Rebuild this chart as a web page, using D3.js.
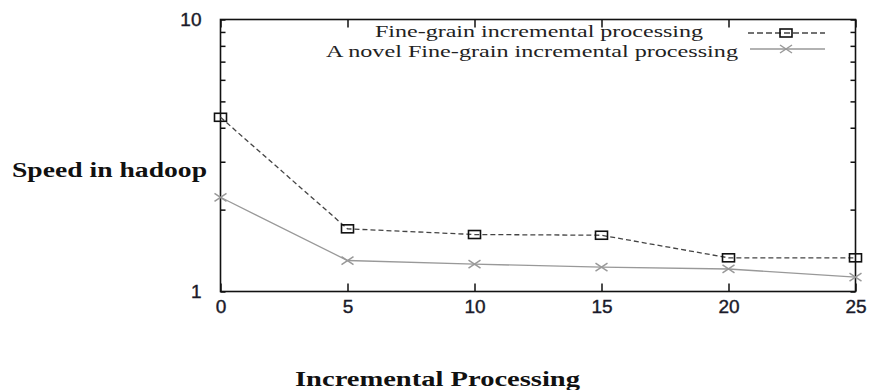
<!DOCTYPE html>
<html>
<head>
<meta charset="utf-8">
<script src="https://cdn.jsdelivr.net/npm/d3@7"></script>
<style>
  body { margin: 0; background: #fff; }
  svg { display: block; }
</style>
</head>
<body>
<div id="chart"></div>
<script>
// data
var steps = [0, 5, 10, 15, 20, 25];
var fineGrain = [4.37, 1.70, 1.62, 1.61, 1.33, 1.33];
var novelFineGrain = [2.22, 1.30, 1.26, 1.23, 1.21, 1.13];
var seriesNames = ["Fine-grain incremental processing", "A novel Fine-grain incremental processing"];
var xTicks = [0, 5, 10, 15, 20, 25];
var yTicks = [1, 2, 3, 4, 5, 6, 7, 8, 9, 10];
var yLabels = [1, 10];

var W = 877, H = 390;
var plotL = 220.5, plotR = 855.5, plotT = 19.5, plotB = 291.5;

var svg = d3.select("#chart").append("svg").attr("width", W).attr("height", H);

var x = d3.scaleLinear().domain([0, 25]).range([plotL, plotR]);
var y = d3.scaleLog().domain([1, 10]).range([plotB, plotT]);

function styleAxis(g) {
  g.select(".domain").remove();
  g.selectAll(".tick line").attr("stroke", "#111").attr("stroke-width", 1.5);
  g.selectAll("text").attr("font-family", "'Liberation Sans', Arial, sans-serif")
    .attr("font-size", 19).attr("fill", "#1a1a2a").attr("stroke", "#1a1a2a").attr("stroke-width", 0.4);
}

// bottom axis
svg.append("g").attr("transform", "translate(0," + plotB + ")")
  .call(d3.axisBottom(x).tickValues(xTicks).tickSizeInner(-8).tickSizeOuter(0).tickPadding(8))
  .call(styleAxis);
// top axis
svg.append("g").attr("transform", "translate(0," + plotT + ")")
  .call(d3.axisTop(x).tickValues(xTicks).tickSizeInner(-8).tickSizeOuter(0).tickFormat(""))
  .call(styleAxis);
// left axis (log, minor ticks)
svg.append("g").attr("transform", "translate(" + plotL + ",0)")
  .call(d3.axisLeft(y).tickValues(yTicks).tickSizeInner(-5).tickSizeOuter(0).tickPadding(19)
    .tickFormat(function(d) { return yLabels.indexOf(d) >= 0 ? d : ""; }))
  .call(styleAxis);
// right axis
svg.append("g").attr("transform", "translate(" + plotR + ",0)")
  .call(d3.axisRight(y).tickValues(yTicks).tickSizeInner(-5).tickSizeOuter(0).tickFormat(""))
  .call(styleAxis);

// frame
svg.append("rect")
  .attr("x", plotL).attr("y", plotT)
  .attr("width", plotR - plotL).attr("height", plotB - plotT)
  .attr("fill", "none").attr("stroke", "#111").attr("stroke-width", 1.6);

var line = d3.line()
  .x(function(d, i) { return x(steps[i]); })
  .y(function(d) { return y(d); });

// series 1 dashed with squares
svg.append("path").datum(fineGrain)
  .attr("d", line).attr("fill", "none")
  .attr("stroke", "#444").attr("stroke-width", 1.3).attr("stroke-dasharray", "5,3");

// series 2 solid gray with crosses
svg.append("path").datum(novelFineGrain)
  .attr("d", line).attr("fill", "none")
  .attr("stroke", "#999").attr("stroke-width", 1.3);

function square(g, cx, cy) {
  g.append("rect").attr("x", cx - 6).attr("y", cy - 4).attr("width", 12).attr("height", 8)
    .attr("fill", "none").attr("stroke", "#111").attr("stroke-width", 1.6);
}
function cross(g, cx, cy) {
  g.append("path")
    .attr("d", "M" + (cx - 6) + "," + (cy - 4) + "L" + (cx + 6) + "," + (cy + 4) +
               "M" + (cx - 6) + "," + (cy + 4) + "L" + (cx + 6) + "," + (cy - 4))
    .attr("stroke", "#999").attr("stroke-width", 1.5).attr("fill", "none");
}

var m1 = svg.append("g");
fineGrain.forEach(function(d, i) { square(m1, x(steps[i]), y(d)); });
var m2 = svg.append("g");
novelFineGrain.forEach(function(d, i) { cross(m2, x(steps[i]), y(d)); });

// legend
var lg = svg.append("g");
lg.append("text").attr("x", 375).attr("y", 37).attr("textLength", 328).attr("lengthAdjust", "spacingAndGlyphs")
  .attr("font-family", "'Liberation Serif', 'Times New Roman', serif").attr("font-size", 16).attr("fill", "#222")
  .text(seriesNames[0]);
lg.append("text").attr("x", 326).attr("y", 57).attr("textLength", 412).attr("lengthAdjust", "spacingAndGlyphs")
  .attr("font-family", "'Liberation Serif', 'Times New Roman', serif").attr("font-size", 16).attr("fill", "#222")
  .text(seriesNames[1]);
lg.append("line").attr("x1", 748).attr("x2", 825).attr("y1", 33).attr("y2", 33)
  .attr("stroke", "#444").attr("stroke-width", 1.3).attr("stroke-dasharray", "6,3");
square(lg, 786, 33);
lg.append("line").attr("x1", 750).attr("x2", 825).attr("y1", 49).attr("y2", 49)
  .attr("stroke", "#999").attr("stroke-width", 1.3);
cross(lg, 786, 49);

// axis titles
svg.append("text").attr("x", 12).attr("y", 177).attr("textLength", 195).attr("lengthAdjust", "spacingAndGlyphs")
  .attr("font-family", "'Liberation Serif', 'Times New Roman', serif").attr("font-size", 20)
  .attr("font-weight", "bold").attr("fill", "#111").text("Speed in hadoop");
svg.append("text").attr("x", 295).attr("y", 386).attr("textLength", 285).attr("lengthAdjust", "spacingAndGlyphs")
  .attr("font-family", "'Liberation Serif', 'Times New Roman', serif").attr("font-size", 20)
  .attr("font-weight", "bold").attr("fill", "#111").text("Incremental Processing");
</script>
</body>
</html>
